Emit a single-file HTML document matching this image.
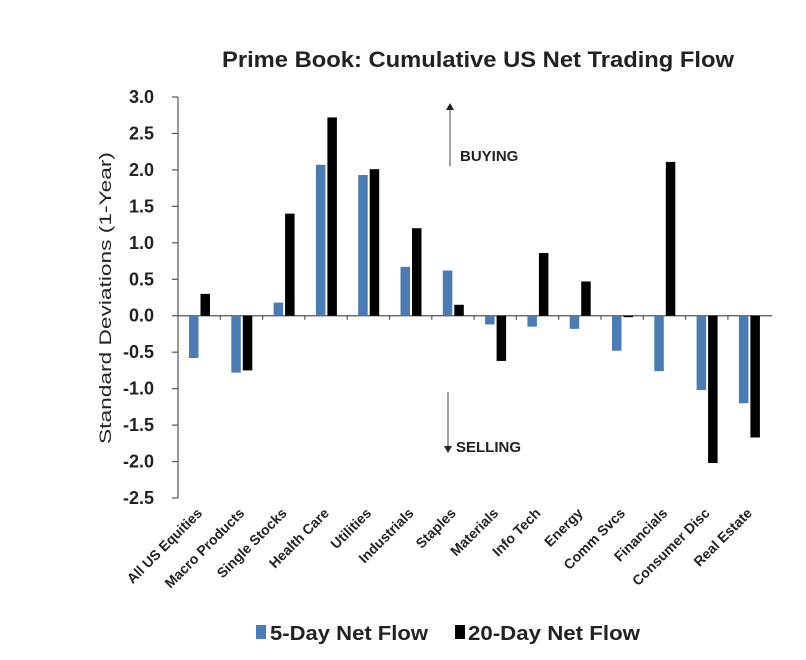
<!DOCTYPE html>
<html><head><meta charset="utf-8"><style>
body{margin:0;background:#fff;}
svg{display:block;font-family:"Liberation Sans",Arial,sans-serif;}
</style></head><body>
<svg id="chart" width="806" height="660" viewBox="0 0 806 660">
<text x="478" y="67" text-anchor="middle" font-size="22" font-weight="bold" fill="#222" textLength="512" lengthAdjust="spacingAndGlyphs">Prime Book: Cumulative US Net Trading Flow</text>
<text transform="translate(111,298) rotate(-90)" text-anchor="middle" font-size="17" fill="#222" textLength="292" lengthAdjust="spacingAndGlyphs">Standard Deviations (1-Year)</text>
<g id="axes"></g>
<g id="bars"></g>
<line x1="450" y1="166" x2="450" y2="108" stroke="#444" stroke-width="1"/>
<polygon points="446,110 454,110 450,103" fill="#222"/>
<text x="460" y="161" font-size="15" font-weight="bold" fill="#222">BUYING</text>
<line x1="448" y1="392" x2="448" y2="448" stroke="#444" stroke-width="1"/>
<polygon points="444,446 452,446 448,453" fill="#222"/>
<text x="456" y="452" font-size="15" font-weight="bold" fill="#222">SELLING</text>
<g>
<rect x="256" y="625" width="10" height="14" fill="#4a7bb5"/>
<text x="270" y="640" font-size="20" font-weight="bold" fill="#222" textLength="158" lengthAdjust="spacingAndGlyphs">5-Day Net Flow</text>
<rect x="455" y="625" width="10" height="14" fill="#000"/>
<text x="468" y="640" font-size="20" font-weight="bold" fill="#222" textLength="172" lengthAdjust="spacingAndGlyphs">20-Day Net Flow</text>
</g>
</svg>
<script>
const categories=["All US Equities","Macro Products","Single Stocks","Health Care","Utilities","Industrials","Staples","Materials","Info Tech","Energy","Comm Svcs","Financials","Consumer Disc","Real Estate"];
const fiveDay=[-0.58,-0.78,0.18,2.07,1.93,0.67,0.62,-0.12,-0.15,-0.18,-0.48,-0.76,-1.02,-1.20];
const twentyDay=[0.30,-0.75,1.40,2.72,2.01,1.20,0.15,-0.62,0.86,0.47,-0.02,2.11,-2.02,-1.67];
const yTicks=[3.0,2.5,2.0,1.5,1.0,0.5,0.0,-0.5,-1.0,-1.5,-2.0,-2.5];
const NS="http://www.w3.org/2000/svg";
const x0=178,catW=42.3,yTop=97,yBot=498,vMax=3,vMin=-2.5;
function y(v){return yTop+(vMax-v)/(vMax-vMin)*(yBot-yTop);}
function xc(i){return x0+i*catW;}
function mk(tag,attrs,parent){const e=document.createElementNS(NS,tag);for(const k in attrs)e.setAttribute(k,attrs[k]);parent.appendChild(e);return e;}
const axes=document.getElementById('axes'),bars=document.getElementById('bars');
let a=mk('line',{x1:x0,y1:yTop,x2:x0,y2:yBot,stroke:'#555','stroke-width':1.2},axes);


yTicks.forEach(t=>{
 let l=mk('line',{x1:x0-6,y1:y(t),x2:x0,y2:y(t),stroke:'#555','stroke-width':1.2},axes);
 
 
 let tx=mk('text',{x:x0-24,y:y(t)+6,'text-anchor':'end','font-size':18,'font-weight':'bold',fill:'#222'},axes);
 tx.textContent=t.toFixed(1);
 
 
});
let xa=mk('line',{x1:x0,y1:y(0),x2:x0+catW*14+2,y2:y(0),stroke:'#555','stroke-width':1.2},axes);


categories.forEach((c,i)=>{
 if(i>0){let tk=mk('line',{x1:xc(i),y1:y(0),x2:xc(i),y2:y(0)+4,stroke:'#555','stroke-width':1.2},axes);
 
 }
 const b1=mk('rect',{x:xc(i)+11,width:9.5,y:Math.min(y(0),y(fiveDay[i])),height:Math.abs(y(fiveDay[i])-y(0)),fill:'#4a7bb5'},bars);
 
 
 const b2=mk('rect',{x:xc(i)+22.5,width:9.5,y:Math.min(y(0),y(twentyDay[i])),height:Math.abs(y(twentyDay[i])-y(0)),fill:'#000'},bars);
 
 
 const cx=xc(i)+25,cy=514;
 const lt=mk('text',{x:cx,y:cy,'text-anchor':'end','font-size':14,'font-weight':'bold',fill:'#222',transform:`rotate(-45 ${cx} ${cy})`},axes);
 lt.textContent=c;
 
 
});
</script>
</body></html>
